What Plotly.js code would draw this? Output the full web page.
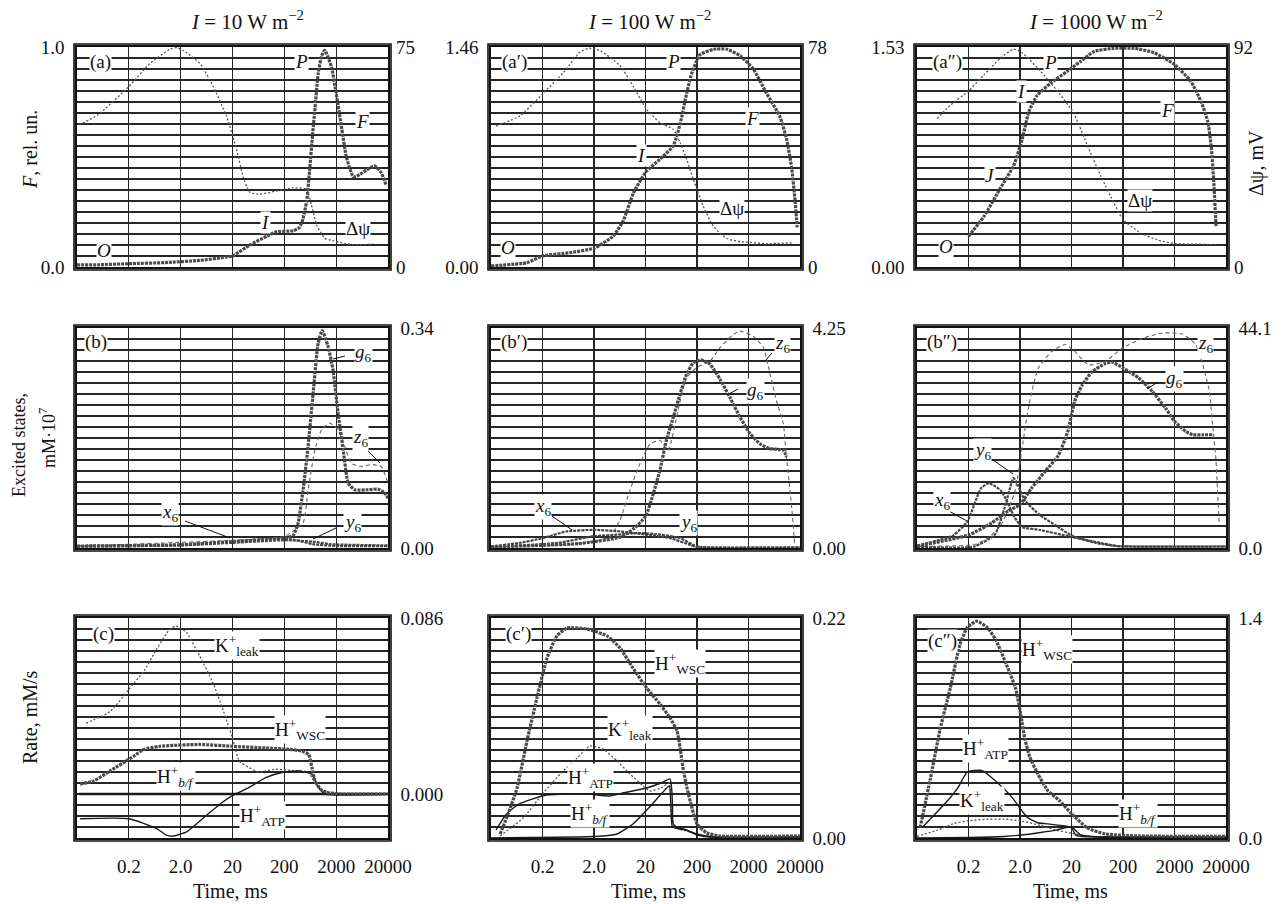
<!DOCTYPE html>
<html><head><meta charset="utf-8">
<script src="https://cdn.plot.ly/plotly-3.0.1.min.js"></script>
<style>html,body{margin:0;padding:0;background:#fff}#chart{width:1282px;height:904px}</style>
</head><body><div id="chart"></div>
<script>
// ---------- x axis (time, ms, log scale) ----------
const xTickVals = [0.2, 2, 20, 200, 2000, 20000];
const xTickText = ['0.2', '2.0', '20', '200', '2000', '20000'];
const timeRange = [0.02, 20000];

// ---------- axis scales and labels ----------
const fMax = [1.0, 1.46, 1.53];
const fLabels = [['0.0', '1.0'], ['0.00', '1.46'], ['0.00', '1.53']];
const psiMax = [75, 78, 92];
const psiLabels = [['0', '75'], ['0', '78'], ['0', '92']];
const exMax = [0.34, 4.25, 44.1];
const exLabels = [['0.00', '0.34'], ['0.00', '4.25'], ['0.0', '44.1']];
const rateRange = [[-0.0215, 0.086], [0, 0.22], [0, 1.4]];
const rateLabels = [['0.000', '0.086'], ['0.00', '0.22'], ['0.0', '1.4']];
const gridSteps = 20;

// ---------- row a: fluorescence F and membrane potential Δψ ----------
const tF10 = [0.02, 0.05, 0.2, 1, 4.7, 15, 20, 43, 92, 140, 295, 395, 460, 540, 620, 700, 780, 900, 1050, 1200, 1620, 2000, 2520, 3150, 4300, 5700, 7600, 11000, 14700, 18500];
const F10 = [0.01, 0.01, 0.015, 0.02, 0.03, 0.045, 0.05, 0.1, 0.14, 0.16, 0.165, 0.18, 0.22, 0.3, 0.45, 0.6, 0.72, 0.88, 0.96, 0.985, 0.91, 0.79, 0.64, 0.5, 0.41, 0.42, 0.44, 0.46, 0.43, 0.37];
const tPsi10 = [0.022, 0.05, 0.2, 0.51, 1.26, 1.69, 2.2, 4.7, 8.5, 15.4, 24, 32, 43, 67, 140, 295, 535, 670, 840, 1200, 1720, 3150, 5700, 10200];
const psi10 = [48.5, 51.8, 61.5, 69.4, 74.3, 74.8, 73.9, 69.4, 61.5, 51.3, 40, 30.8, 25.5, 24.8, 25.9, 27, 26.5, 21, 14.3, 9.8, 9, 7.9, 7.5, 7.9];

const tF100 = [0.02, 0.1, 0.2, 0.68, 2, 4.7, 7.4, 11.6, 20, 38, 69, 94, 126, 158, 231, 420, 760, 1380, 2470, 4480, 8100, 11000, 13700, 16000, 17600];
const F100 = [0.007, 0.029, 0.073, 0.095, 0.125, 0.204, 0.307, 0.489, 0.628, 0.715, 0.803, 0.949, 1.153, 1.285, 1.41, 1.445, 1.445, 1.402, 1.314, 1.153, 1.0, 0.847, 0.664, 0.445, 0.263];
const tPsi100 = [0.025, 0.073, 0.2, 0.51, 1.07, 1.6, 2.6, 6.4, 11.6, 21, 38, 69, 94, 126, 170, 265, 420, 760, 1380, 4480, 14900];
const psi100 = [49.9, 53.6, 61.3, 69.0, 76.2, 77.6, 76.8, 71.4, 64.0, 55.9, 51.2, 48.8, 44.1, 38.2, 31.0, 21.5, 14.3, 10.1, 9.0, 8.3, 8.6];

const tF1000 = [0.2, 0.4, 0.84, 1.5, 2.2, 2.96, 4.3, 7.9, 16.7, 30, 55, 134, 330, 810, 2000, 4150, 6600, 8900, 10300, 11500, 12800];
const F1000 = [0.214, 0.352, 0.551, 0.704, 0.887, 1.079, 1.193, 1.279, 1.362, 1.43, 1.499, 1.521, 1.521, 1.49, 1.408, 1.291, 1.148, 1.01, 0.842, 0.612, 0.282];
const tPsi1000 = [0.049, 0.089, 0.2, 0.4, 0.84, 1.5, 2.2, 5.0, 10.6, 22, 41, 74, 134, 200, 450, 940, 2000, 6600, 13800];
const psi1000 = [62.1, 67.7, 73.6, 80.4, 87.4, 91.1, 89.6, 81.9, 73.6, 64.4, 50.6, 38.1, 26.7, 19.8, 14.1, 11.3, 9.8, 9.5, 9.2];

// ---------- row b: excited states g6, z6, x6, y6 ----------
const tG10 = [0.02, 2, 20, 200, 300, 370, 460, 575, 720, 900, 1075, 1390, 1730, 2170, 2730, 3420, 4560, 8260, 12800, 17400, 20000];
const g10 = [0.003, 0.005, 0.01, 0.015, 0.02, 0.039, 0.09, 0.157, 0.24, 0.317, 0.336, 0.312, 0.276, 0.209, 0.152, 0.1, 0.09, 0.09, 0.091, 0.085, 0.077];
const tZ10 = [0.02, 20, 200, 460, 575, 780, 1050, 1500, 2170, 2940, 3900, 6200, 9600, 14800, 20000];
const z10 = [0.003, 0.012, 0.018, 0.039, 0.09, 0.152, 0.183, 0.193, 0.183, 0.157, 0.131, 0.126, 0.129, 0.126, 0.1];
const tX10 = [0.02, 2, 20, 100, 300, 700, 2000, 20000];
const x10 = [0.003, 0.005, 0.01, 0.014, 0.013, 0.006, 0.003, 0.003];
const tY10 = [0.02, 2, 20, 200, 700, 1500, 20000];
const y10 = [0.002, 0.004, 0.008, 0.012, 0.01, 0.006, 0.004];

const tG100 = [0.02, 1, 6.4, 12, 20, 28.4, 38, 51, 69, 94, 126, 170, 246, 358, 560, 870, 1380, 2150, 3370, 5250, 9500, 10900];
const g100 = [0.02, 0.085, 0.21, 0.38, 0.61, 1.05, 1.5, 2.08, 2.52, 2.98, 3.36, 3.58, 3.63, 3.55, 3.26, 2.91, 2.52, 2.21, 2.01, 1.92, 1.89, 1.76];
const tZ100 = [0.02, 1, 4, 6.4, 10, 15.6, 24.5, 38, 55, 94, 126, 200, 358, 560, 1000, 1380, 2470, 3900, 5250, 7000, 9500, 10900, 12800, 14700, 15700];
const z100 = [0.02, 0.085, 0.21, 0.54, 1.12, 1.63, 2.01, 2.08, 1.89, 2.84, 3.29, 3.49, 3.61, 3.87, 4.12, 4.19, 4.09, 3.87, 3.36, 2.84, 2.4, 1.76, 1.12, 0.48, 0.1];
const tX100 = [0.02, 0.073, 0.2, 0.59, 2, 6.4, 20, 60, 148, 200, 20000];
const x100 = [0.03, 0.1, 0.19, 0.32, 0.35, 0.32, 0.26, 0.19, 0.06, 0.02, 0.01];
const tY100 = [0.02, 0.4, 2, 6.4, 14, 38, 94, 170, 230, 20000];
const y100 = [0.02, 0.1, 0.23, 0.26, 0.29, 0.26, 0.19, 0.06, 0.017, 0.013];

const tG1000 = [0.02, 0.2, 0.56, 1.17, 2, 3.3, 6.2, 11, 17, 23, 32, 50, 91, 123, 200, 400, 740, 1350, 2000, 3300, 4500, 7100, 11000];
const g1000 = [0.35, 2.6, 5.0, 7.4, 8.7, 11.9, 15.4, 18.5, 23.4, 29.4, 32.6, 35.3, 37.0, 37.3, 36.1, 34.1, 31.4, 28.0, 25.4, 23.4, 22.7, 22.7, 22.7];
const tZ1000 = [0.02, 0.26, 0.48, 0.87, 1.6, 2.3, 2.9, 4.5, 8.3, 15, 23, 43, 91, 190, 470, 1170, 2850, 5150, 7100, 9500, 11000, 12700, 13700, 14800];
const z1000 = [0.3, 0.7, 2, 4.7, 11.4, 21.4, 28, 36, 39.4, 40.8, 39.4, 36.7, 37.4, 40, 42, 43.1, 42.9, 40.8, 36.7, 31.4, 24.7, 18, 11.4, 4.7];
const tX1000 = [0.02, 0.1, 0.19, 0.35, 0.5, 0.87, 1.6, 2.2, 5, 20, 60, 150, 300, 20000];
const x1000 = [0.5, 2.5, 5.3, 12, 13, 11.4, 6, 4.2, 3.6, 2.2, 1.2, 0.4, 0.3, 0.3];
const tY1000 = [0.02, 0.26, 0.65, 1.0, 1.5, 1.8, 2.5, 5, 10, 20, 60, 150, 300, 20000];
const y1000 = [0.2, 0.3, 2.7, 8, 14, 12.7, 9.5, 6.5, 4.5, 2.5, 1, 0.4, 0.3, 0.3];

// ---------- row c: rates K+leak, H+WSC, H+ATP, H+b/f ----------
const tK10 = [0.03, 0.087, 0.26, 0.38, 0.69, 1.23, 1.64, 2.6, 4.6, 8.3, 12.8, 17.3, 20, 27, 42, 65, 87, 135, 280, 440, 590, 680, 910, 1220];
const k10 = [0.0346, 0.0403, 0.0547, 0.0596, 0.0708, 0.0805, 0.0821, 0.0789, 0.0676, 0.0547, 0.0419, 0.0322, 0.0274, 0.0161, 0.0129, 0.0105, 0.0113, 0.0121, 0.0115, 0.0113, 0.0105, 0.008, 0.003, 0.0008];
const tW10 = [0.023, 0.042, 0.087, 0.25, 0.38, 0.79, 4.6, 20, 87, 280, 440, 590, 680, 780, 1000, 1300, 2550, 20000];
const w10 = [0.0048, 0.0064, 0.0113, 0.0185, 0.0217, 0.0233, 0.0242, 0.0233, 0.0225, 0.0217, 0.0209, 0.0193, 0.0129, 0.0064, 0.0024, 0.0008, 0, 0];
const tA10 = [0.023, 0.2, 0.69, 1.06, 1.38, 2.6, 6.2, 12.8, 20, 42, 87, 180, 380, 680, 910, 1220, 20000];
const a10 = [-0.0121, -0.0121, -0.0169, -0.0201, -0.0206, -0.0185, -0.0105, -0.004, -0.0008, 0.0032, 0.008, 0.0105, 0.0113, 0.0097, 0.0032, 0, 0];
const tB10 = [0.022, 20000];
const b10 = [0, 0];

const tW100 = [0.03, 0.043, 0.064, 0.1, 0.156, 0.245, 0.38, 0.6, 1.46, 3.6, 6.4, 11.4, 21, 38, 60, 82, 94, 107, 128, 160, 200, 310, 560, 20000];
const w100 = [0.004, 0.024, 0.05, 0.097, 0.14, 0.18, 0.202, 0.21, 0.209, 0.202, 0.19, 0.17, 0.15, 0.134, 0.12, 0.107, 0.09, 0.07, 0.05, 0.03, 0.014, 0.005, 0.002, 0.002];
const tK100 = [0.03, 0.084, 0.2, 0.44, 0.94, 1.67, 3.0, 5.6, 10, 18, 24.5, 40, 58, 63, 80, 150, 300, 20000];
const k100 = [0.002, 0.02, 0.044, 0.064, 0.08, 0.092, 0.089, 0.077, 0.064, 0.052, 0.047, 0.05, 0.055, 0.02, 0.01, 0.006, 0.002, 0.001];
const tA100 = [0.025, 0.04, 0.07, 0.24, 1.5, 4, 7.3, 21, 40, 60, 65, 67, 69, 90, 120, 200, 400, 20000];
const a100 = [0.008, 0.024, 0.034, 0.043, 0.044, 0.042, 0.045, 0.05, 0.055, 0.059, 0.047, 0.03, 0.014, 0.009, 0.008, 0.004, 0.001, 0.001];
const tB100 = [0.02, 1, 3, 5.6, 11.4, 23, 42, 58, 62, 66, 75, 110, 150, 200, 400, 20000];
const b100 = [0, 0.001, 0.002, 0.004, 0.014, 0.03, 0.045, 0.052, 0.035, 0.012, 0.01, 0.009, 0.006, 0.003, 0.001, 0.001];

const tW1000 = [0.023, 0.036, 0.056, 0.088, 0.136, 0.19, 0.29, 0.46, 0.68, 1.1, 1.65, 2.2, 2.5, 3.1, 4.4, 7, 11.5, 20, 40, 90, 420, 20000];
const w1000 = [0.065, 0.37, 0.69, 0.95, 1.23, 1.34, 1.38, 1.34, 1.26, 1.1, 0.95, 0.735, 0.626, 0.516, 0.41, 0.3, 0.24, 0.155, 0.065, 0.026, 0.013, 0.01];
const tA1000 = [0.025, 0.08, 0.125, 0.19, 0.36, 0.74, 1.39, 2.17, 2.8, 4.4, 6.9, 14.8, 20, 24, 30, 100, 20000];
const a1000 = [0.065, 0.24, 0.32, 0.42, 0.43, 0.35, 0.26, 0.174, 0.13, 0.097, 0.09, 0.077, 0.065, 0.02, 0.01, 0.005, 0.005];
const tK1000 = [0.02, 0.05, 0.1, 0.2, 0.5, 1, 2, 5, 10, 20, 40, 100, 20000];
const k1000 = [0.01, 0.05, 0.09, 0.11, 0.12, 0.12, 0.11, 0.08, 0.05, 0.03, 0.012, 0.005, 0.004];
const tB1000 = [0.02, 0.2, 1, 2, 5, 10, 18, 22, 30, 50, 100, 20000];
const b1000 = [0, 0.003, 0.01, 0.018, 0.035, 0.05, 0.07, 0.06, 0.02, 0.01, 0.006, 0.005];

// ---------- layout geometry ----------
const W = 1282, H = 904;
const FONT = 'Liberation Serif, "Times New Roman", serif';
const colX = [[77, 388], [491, 800], [917, 1226]];
const rowY = [[47, 267], [328, 548], [618, 838]];
const GRID = '#262626';
const GW = 1.15;
const ST = {
  thick: {color: '#4a4a4a', width: 3.2, dash: '3px,1px'},
  dotted: {color: '#555', width: 1.3, dash: '2px,2px'},
  dashed: {color: '#666', width: 1.1, dash: '4px,3px'},
  small: {color: '#444', width: 2.2, dash: '3px,1px'},
  solid: {color: '#1a1a1a', width: 1.4},
  flat: {color: '#1a1a1a', width: 2.6}
};

const rowA = [[tF10, F10, tPsi10, psi10], [tF100, F100, tPsi100, psi100], [tF1000, F1000, tPsi1000, psi1000]];
const rowB = [[tG10, g10, tZ10, z10, tX10, x10, tY10, y10], [tG100, g100, tZ100, z100, tX100, x100, tY100, y100], [tG1000, g1000, tZ1000, z1000, tX1000, x1000, tY1000, y1000]];
const rowC = [[tK10, k10, tW10, w10, tA10, a10, tB10, b10], [tK100, k100, tW100, w100, tA100, a100, tB100, b100], [tK1000, k1000, tW1000, w1000, tA1000, a1000, tB1000, b1000]];

const layout = {
  width: W, height: H, margin: {l: 0, r: 0, t: 0, b: 0},
  paper_bgcolor: '#fff', plot_bgcolor: '#fff', showlegend: false,
  font: {family: FONT, size: 19, color: '#111'},
  annotations: [], shapes: []
};
const traces = [];
const ref = (p, n) => n === 1 ? p : p + n;
const tickFont = {family: FONT, size: 19, color: '#111'};

function addLine(t, v, n, yn, st) {
  traces.push({type: 'scatter', mode: 'lines', x: t, y: v, xaxis: ref('x', n), yaxis: ref('y', yn),
    line: Object.assign({shape: 'spline', smoothing: 0.5}, st), hoverinfo: 'skip'});
}

for (let r = 0; r < 3; r++) {
  for (let c = 0; c < 3; c++) {
    const n = r * 3 + c + 1;
    let lo, hi, labs, side;
    if (r === 0) { lo = 0; hi = fMax[c]; labs = fLabels[c]; side = 'left'; }
    else if (r === 1) { lo = 0; hi = exMax[c]; labs = exLabels[c]; side = 'right'; }
    else { lo = rateRange[c][0]; hi = rateRange[c][1]; labs = rateLabels[c]; side = 'right'; }

    layout[ref('xaxis', n)] = {
      domain: [colX[c][0] / W, colX[c][1] / W], anchor: ref('y', n), type: 'log',
      range: [Math.log10(timeRange[0]), Math.log10(timeRange[1])],
      tickmode: 'array', tickvals: xTickVals, ticktext: xTickText, showticklabels: r === 2,
      ticks: '', showgrid: true, gridcolor: GRID, gridwidth: GW, showline: true, mirror: true,
      linecolor: '#111', linewidth: 1.8, zeroline: false, tickfont: tickFont, ticklabelstandoff: 10, fixedrange: true
    };
    layout[ref('yaxis', n)] = {
      domain: [1 - rowY[r][1] / H, 1 - rowY[r][0] / H], anchor: ref('x', n), range: [lo, hi],
      tickmode: 'array', tickvals: [0, hi], ticktext: labs, side: side, ticks: '',
      showgrid: false, showline: true, mirror: true, linecolor: '#111', linewidth: 1.8, zeroline: false,
      minor: {tickmode: 'linear', tick0: lo, dtick: (hi - lo) / gridSteps, showgrid: true,
              gridcolor: GRID, gridwidth: GW, ticks: ''},
      tickfont: tickFont, ticklabelstandoff: 7, fixedrange: true
    };
    const ox = 3 / (colX[c][1] - colX[c][0]), oy = 3 / (rowY[r][1] - rowY[r][0]);
    layout.shapes.push({type: 'rect', xref: ref('x', n) + ' domain', yref: ref('y', n) + ' domain',
      x0: -ox, x1: 1 + ox, y0: -oy, y1: 1 + oy, line: {color: '#111', width: 1.6}, layer: 'above'});

    if (r === 0) {
      const pn = 10 + c;
      layout[ref('yaxis', pn)] = {
        overlaying: ref('y', n), anchor: ref('x', n), side: 'right', range: [0, psiMax[c]],
        tickmode: 'array', tickvals: [0, psiMax[c]], ticktext: psiLabels[c], showgrid: false,
        showline: false, zeroline: false, ticks: '', tickfont: tickFont, ticklabelstandoff: 7, fixedrange: true
      };
      const d = rowA[c];
      addLine(d[0], d[1], n, n, ST.thick);
      addLine(d[2], d[3], n, pn, ST.dotted);
    } else if (r === 1) {
      const d = rowB[c];
      addLine(d[2], d[3], n, n, ST.dashed);
      addLine(d[4], d[5], n, n, ST.small);
      addLine(d[6], d[7], n, n, ST.small);
      addLine(d[0], d[1], n, n, ST.thick);
    } else {
      const d = rowC[c];
      addLine(d[0], d[1], n, n, ST.dotted);
      addLine(d[4], d[5], n, n, ST.solid);
      addLine(d[6], d[7], n, n, c === 0 ? ST.flat : ST.solid);
      addLine(d[2], d[3], n, n, ST.thick);
    }
  }
}

// ---------- text ----------
function lab(x, y, text, opt) {
  opt = opt || {};
  layout.annotations.push(Object.assign({xref: 'paper', yref: 'paper', x: x / W, y: 1 - y / H, text: text,
    showarrow: false, xanchor: 'center', yanchor: 'middle',
    font: {family: FONT, size: opt.size || 19, color: '#111'}, bgcolor: opt.nobg ? 'rgba(0,0,0,0)' : '#fff', borderpad: 0},
    opt.angle ? {textangle: opt.angle} : {}));
}
function lead(x0, y0, x1, y1) {
  layout.shapes.push({type: 'line', xref: 'paper', yref: 'paper', x0: x0 / W, y0: 1 - y0 / H, x1: x1 / W, y1: 1 - y1 / H,
    line: {color: '#111', width: 1}});
}

// column titles
lab(247, 20, '<i>I</i> = 10 W m<sup>−2</sup>', {size: 21, nobg: true});
lab(649, 20, '<i>I</i> = 100 W m<sup>−2</sup>', {size: 21, nobg: true});
lab(1096, 21, '<i>I</i> = 1000 W m<sup>−2</sup>', {size: 21, nobg: true});
// axis titles
lab(30, 150, '<i>F</i>, rel. un.', {angle: -90, nobg: true, size: 20});
lab(19, 445, 'Excited states,', {angle: -90, nobg: true, size: 18});
lab(47, 438, 'mM·10<sup>7</sup>', {angle: -90, nobg: true, size: 18});
lab(30, 717, 'Rate, mM/s', {angle: -90, nobg: true, size: 20});
lab(1256, 163, 'Δψ, mV', {angle: -90, nobg: true, size: 20});
lab(230, 891, 'Time, ms', {nobg: true, size: 20});
lab(648, 891, 'Time, ms', {nobg: true, size: 20});
lab(1070, 891, 'Time, ms', {nobg: true, size: 20});

// row a labels
lab(100, 62, '(a)'); lab(301, 61, '<i>P</i>'); lab(362, 121, '<i>F</i>'); lab(265, 222, '<i>I</i>');
lab(358, 228, 'Δψ'); lab(104, 250, '<i>O</i>');
lab(514, 62, '(a′)'); lab(673, 61, '<i>P</i>'); lab(752, 118, '<i>F</i>'); lab(641, 155, '<i>I</i>');
lab(732, 208, 'Δψ'); lab(508, 248, '<i>O</i>');
lab(947, 62, '(a″)'); lab(1050, 63, '<i>P</i>'); lab(1022, 91, '<i>I</i>'); lab(1167, 111, '<i>F</i>');
lab(990, 176, '<i>J</i>'); lab(1140, 200, 'Δψ'); lab(946, 247, '<i>O</i>');

// row b labels
lab(96, 342, '(b)'); lab(363, 353, '<i>g</i><sub>6</sub>'); lab(360, 438, '<i>z</i><sub>6</sub>');
lab(170, 513, '<i>x</i><sub>6</sub>'); lab(352, 523, '<i>y</i><sub>6</sub>');
lead(345, 356, 333, 359); lead(368, 451, 380, 463); lead(185, 521, 230, 538); lead(336, 528, 313, 539);
lab(514, 342, '(b′)'); lab(782, 344, '<i>z</i><sub>6</sub>'); lab(755, 391, '<i>g</i><sub>6</sub>');
lab(543, 507, '<i>x</i><sub>6</sub>'); lab(688, 523, '<i>y</i><sub>6</sub>');
lead(772, 353, 765, 361); lead(738, 389, 727, 395); lead(552, 516, 572, 530);
lab(942, 342, '(b″)'); lab(1205, 344, '<i>z</i><sub>6</sub>'); lab(1174, 379, '<i>g</i><sub>6</sub>');
lab(982, 451, '<i>y</i><sub>6</sub>'); lab(942, 501, '<i>x</i><sub>6</sub>');
lead(1158, 382, 1147, 389); lead(993, 460, 1013, 474); lead(947, 510, 967, 521);

// row c labels
lab(103, 634, '(c)'); lab(237, 645, 'K<sup>+</sup><sub>leak</sub>'); lab(300, 729, 'H<sup>+</sup><sub>WSC</sub>');
lab(176, 776, 'H<sup>+</sup><sub><i>b/f</i></sub>'); lab(262, 815, 'H<sup>+</sup><sub>ATP</sub>');
lab(518, 634, '(c′)'); lab(680, 663, 'H<sup>+</sup><sub>WSC</sub>'); lab(630, 729, 'K<sup>+</sup><sub>leak</sub>');
lab(590, 777, 'H<sup>+</sup><sub>ATP</sub>'); lab(590, 813, 'H<sup>+</sup><sub><i>b/f</i></sub>');
lab(942, 641, '(c″)'); lab(1047, 649, 'H<sup>+</sup><sub>WSC</sub>'); lab(985, 748, 'H<sup>+</sup><sub>ATP</sub>');
lab(982, 800, 'K<sup>+</sup><sub>leak</sub>'); lab(1138, 813, 'H<sup>+</sup><sub><i>b/f</i></sub>');

Plotly.newPlot('chart', traces, layout, {staticPlot: true, displayModeBar: false});
</script>
</body></html>
